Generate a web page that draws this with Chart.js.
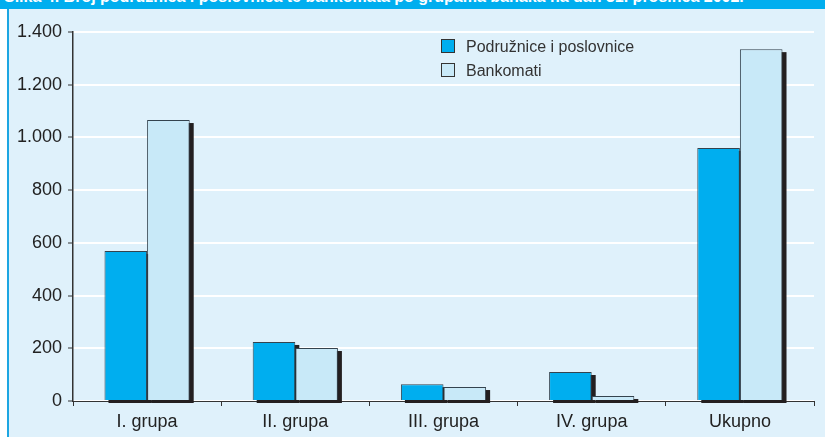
<!DOCTYPE html>
<html>
<head>
<meta charset="utf-8">
<script src="https://cdn.jsdelivr.net/npm/chart.js@4"></script>
<style>
  html, body { margin: 0; padding: 0; background: #fff; }
  #wrap { position: relative; width: 825px; height: 437px; overflow: hidden; font-family: "Liberation Sans", Arial, sans-serif; }
  #titlebar { position: absolute; left: 0; top: 0; width: 825px; height: 9px; background: #00aeef; overflow: hidden; }
  #titlebar span { position: absolute; left: 4px; top: -11px; color: #fff; font-weight: bold; font-size: 16px; line-height: 16px; white-space: nowrap; }
  #panel { position: absolute; left: 7px; top: 9px; width: 818px; height: 428px; background: #dff1fb; border-left: 2px solid #1da6e2; }
  #chart { position: absolute; left: 0; top: 0; }
  #legend { position: absolute; left: 432px; top: 28px; font-size: 16px; color: #333; }
  #legend div { height: 24px; line-height: 19px; white-space: nowrap; }
  #legend i { display: inline-block; width: 12px; height: 12px; border: 1px solid #333; margin-right: 11px; vertical-align: -1px; }
</style>
</head>
<body>
<div id="wrap">
  <div id="titlebar"><span>Slika 4. Broj podružnica i poslovnica te bankomata po grupama banaka na dan 31. prosinca 2002.</span></div>
  <div id="panel">
    <canvas id="chart" width="816" height="428"></canvas>
    <div id="legend"></div>
  </div>
</div>
<script>
// categories and series
const groups = ["I. grupa", "II. grupa", "III. grupa", "IV. grupa", "Ukupno"];
const branches = [569, 224, 64, 110, 960];   // Podružnice i poslovnice
const atms = [1066, 201, 53, 19, 1335];       // Bankomati
const yTicks = [0, 200, 400, 600, 800, 1000, 1200, 1400];

const seriesNames = ["Podružnice i poslovnice", "Bankomati"];
const seriesColors = ["#00aeef", "#c8e9f8"];

// dark offset shadow behind every bar
const barShadow = {
  id: "barShadow",
  beforeDatasetsDraw(chart) {
    const ctx = chart.ctx;
    ctx.save();
    ctx.fillStyle = "#231f20";
    chart.data.datasets.forEach((ds, i) => {
      chart.getDatasetMeta(i).data.forEach(bar => {
        const p = bar.getProps(["x", "y", "base", "width"], true);
        ctx.fillRect(p.x - p.width / 2 + 4, p.y + 3, p.width, p.base - p.y);
      });
    });
    ctx.restore();
  }
};

new Chart(document.getElementById("chart"), {
  type: "bar",
  data: {
    labels: groups,
    datasets: [
      { label: seriesNames[0], data: branches, backgroundColor: seriesColors[0], borderColor: "#34434e", borderWidth: 1 },
      { label: seriesNames[1], data: atms, backgroundColor: seriesColors[1], borderColor: "#34434e", borderWidth: 1 }
    ]
  },
  options: {
    responsive: false,
    animation: false,
    layout: { padding: { top: 23, right: 11, bottom: 0, left: 0 } },
    datasets: { bar: { categoryPercentage: 0.575, barPercentage: 1 } },
    plugins: { legend: { display: false }, tooltip: { enabled: false } },
    scales: {
      x: {
        afterFit: s => { s.height = 36; },
        grid: { offset: true, drawOnChartArea: false, tickLength: 5, color: "#333", tickWidth: 1 },
        border: { color: "#333", width: 1 },
        ticks: { color: "#222", font: { family: "Liberation Sans", size: 18 }, padding: 5 }
      },
      y: {
        min: 0, max: 1400,
        afterFit: s => { s.width = 64; },
        afterBuildTicks: s => { s.ticks = yTicks.map(v => ({ value: v })); },
        grid: { color: "#ffffff", lineWidth: 2, tickColor: "#333", tickWidth: 1, tickLength: 5 },
        border: { color: "#333", width: 1.5 },
        ticks: {
          color: "#222", font: { family: "Liberation Sans", size: 18 }, padding: 6,
          callback: v => String(v).replace(/\B(?=(\d{3})+(?!\d))/g, ".")
        }
      }
    }
  },
  plugins: [barShadow]
});

// legend as html
document.getElementById("legend").innerHTML = seriesNames.map((n, i) =>
  '<div><i style="background:' + seriesColors[i] + '"></i>' + n + '</div>').join("");
</script>
</body>
</html>
